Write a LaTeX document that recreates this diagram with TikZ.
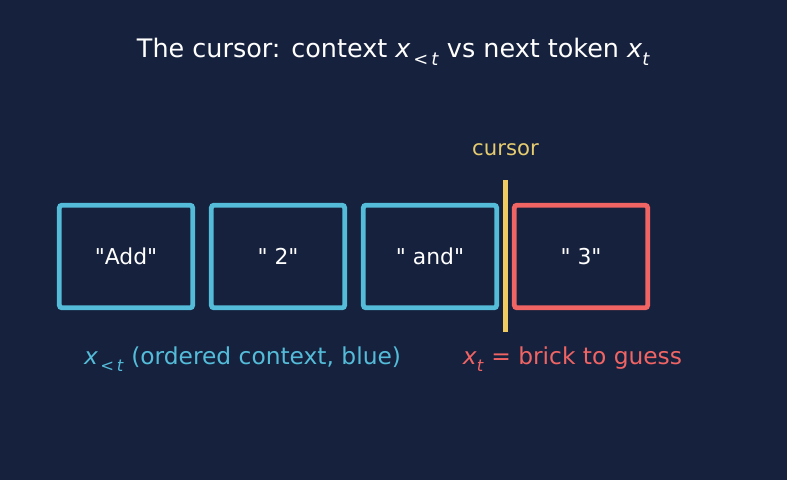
\documentclass[tikz,border=0pt]{standalone}
\usepackage{fontspec}
\setmainfont{DejaVu Sans}
\usepackage{tikz}

\definecolor{bgnavy}{RGB}{22,33,62}
\definecolor{ctxblue}{RGB}{84,188,216}
\definecolor{guessred}{RGB}{240,100,100}
\definecolor{cursorgold}{RGB}{240,204,96}
\definecolor{cursortext}{RGB}{230,204,110}

% x with a lowered subscript; #1 = subscript size
\newcommand{\subx}[2]{\textit{x}\raisebox{-0.3em}{\fontsize{#1}{#1}\selectfont #2}}
\newcommand{\qq}{\textquotedbl}

\tikzset{
    brick/.style={draw, line width=3.6pt, rounded corners=2pt, minimum width=100pt, minimum height=77pt, inner sep=0pt, outer sep=0pt, text=white, font=\fontsize{16.4}{19}\selectfont},
    ctxbrick/.style={brick, draw=ctxblue},
    nextbrick/.style={brick, draw=guessred},
    caption/.style={font=\fontsize{17.5}{21}\selectfont},
}

\begin{document}
\begin{tikzpicture}[x=0.75pt,y=0.75pt,yscale=-1,xscale=1]

    \fill[bgnavy] (0,0) rectangle (787,480);
    \useasboundingbox (0,0) rectangle (787,480);

    % title
    \node (title) at (393.5,52) [text=white, font=\fontsize{19.1}{23}\selectfont] {The cursor: context \subx{13.4}{\kern0.15em<\,\textit{t}} vs next token \subx{13.4}{\textit{t}}};

    % token bricks
    \node (tokA) at (126,256.5) [ctxbrick] {\qq Add\qq};
    \node (tokB) at (278,256.5) [ctxbrick] {\qq\ 2\qq};
    \node (tokC) at (430,256.5) [ctxbrick] {\qq\ and\qq};
    \node (tokD) at (581,256.5) [nextbrick] {\qq\ 3\qq};

    % cursor bar
    \coordinate (curtop) at (505.5,180);
    \coordinate (curbot) at (505.5,332);
    \draw[cursorgold, line width=3.6pt] (curtop) -- (curbot);
    \node (curlabel) at (505.5,150) [text=cursortext, font=\fontsize{15.9}{19}\selectfont] {cursor};

    % captions
    \node (ctxcap) at (242.5,359) [caption, text=ctxblue] {\subx{12.3}{\kern0.15em<\,\textit{t}} (ordered context, blue)};
    \node (nextcap) at (572.5,359) [caption, text=guessred] {\subx{12.3}{\textit{t}} = brick to guess};

\end{tikzpicture}
\end{document}
